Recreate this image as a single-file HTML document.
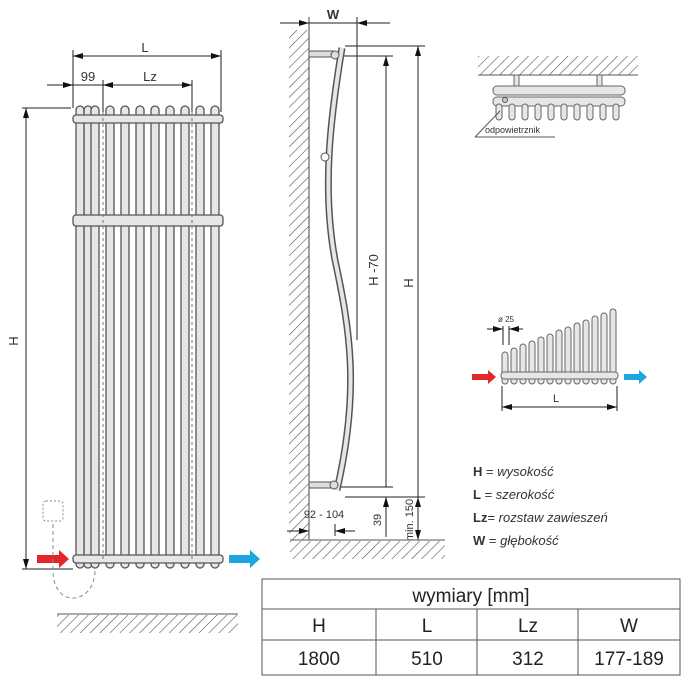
<!DOCTYPE html>
<html><head><meta charset="utf-8"><style>
html,body{margin:0;padding:0;background:#fff}
svg{display:block}
text{font-family:"Liberation Sans",sans-serif}
</style></head><body>
<svg width="696" height="696" viewBox="0 0 696 696" xmlns="http://www.w3.org/2000/svg">
<defs>
<marker id="a" viewBox="0 0 10 6" refX="10" refY="3" markerWidth="10" markerHeight="6" orient="auto-start-reverse" markerUnits="userSpaceOnUse"><path d="M0,0L10,3L0,6z" fill="#111"/></marker>
<pattern id="h" width="7" height="7" patternUnits="userSpaceOnUse" patternTransform="rotate(45)"><line x1="0" y1="0" x2="0" y2="7" stroke="#555" stroke-width="1.2"/></pattern>
</defs>
<g stroke="#222" stroke-width="1" fill="none">
<line x1="73" y1="56" x2="221" y2="56" marker-start="url(#a)" marker-end="url(#a)"/>
<line x1="73" y1="50" x2="73" y2="108"/><line x1="221" y1="50" x2="221" y2="112"/>
<line x1="47" y1="85" x2="73" y2="85" marker-end="url(#a)"/>
<line x1="73" y1="85" x2="103" y2="85"/>
<line x1="103" y1="85" x2="192" y2="85" marker-start="url(#a)" marker-end="url(#a)"/>
<line x1="103" y1="80" x2="103" y2="112"/><line x1="192" y1="80" x2="192" y2="112"/>
<line x1="22" y1="108" x2="71" y2="108"/><line x1="22" y1="569" x2="73" y2="569"/>
<line x1="26" y1="108" x2="26" y2="569" marker-start="url(#a)" marker-end="url(#a)"/>
</g>
<text x="145" y="52" font-size="13" text-anchor="middle" fill="#333">L</text>
<text x="88" y="81" font-size="13" text-anchor="middle" fill="#333">99</text>
<text x="150" y="81" font-size="13" text-anchor="middle" fill="#333">Lz</text>
<text x="22" y="345" font-size="13" text-anchor="middle" fill="#333" transform="rotate(-90 18 345)">H</text>
<g stroke="#555" stroke-width="1.3" fill="#e6e6e6">
<rect x="84" y="106" width="8" height="462" rx="4"/>
<rect x="76" y="106" width="8" height="462" rx="4"/><rect x="91" y="106" width="8" height="462" rx="4"/><rect x="106" y="106" width="8" height="462" rx="4"/><rect x="121" y="106" width="8" height="462" rx="4"/><rect x="136" y="106" width="8" height="462" rx="4"/><rect x="151" y="106" width="8" height="462" rx="4"/><rect x="166" y="106" width="8" height="462" rx="4"/><rect x="181" y="106" width="8" height="462" rx="4"/><rect x="196" y="106" width="8" height="462" rx="4"/><rect x="211" y="106" width="8" height="462" rx="4"/>
<rect x="73" y="115" width="150" height="8" rx="3"/>
<rect x="73" y="215" width="150" height="11" rx="3"/>
<rect x="73" y="555" width="150" height="8" rx="3"/>
</g>
<g stroke="#777" stroke-dasharray="3,3" fill="none"><line x1="103" y1="112" x2="103" y2="560"/><line x1="192" y1="112" x2="192" y2="560"/></g>
<path d="M37,555h22v-5l10,9l-10,9v-5h-22z" fill="#e3262a"/>
<path d="M229,555h21v-5l10,9l-10,9v-5h-21z" fill="#1ca5e3"/>
<rect x="43" y="501" width="20" height="20" rx="3" fill="none" stroke="#888" stroke-dasharray="2,2"/>
<path d="M53,524 V570 C53,610 95,605 95,570" fill="none" stroke="#888" stroke-dasharray="4,3"/>
<line x1="57" y1="614" x2="238" y2="614" stroke="#555"/>
<rect x="57" y="615" width="181" height="18" fill="url(#h)"/>
<rect x="289" y="30" width="20" height="510" fill="url(#h)"/>
<line x1="309" y1="17" x2="309" y2="540" stroke="#444"/>
<text x="333" y="19" font-size="13" font-weight="bold" text-anchor="middle" fill="#333">W</text>
<g stroke="#222" fill="none">
<line x1="280" y1="23" x2="309" y2="23" marker-end="url(#a)"/><line x1="309" y1="23" x2="357" y2="23"/><line x1="390" y1="23" x2="357" y2="23" marker-end="url(#a)"/>
<line x1="357" y1="17" x2="357" y2="340"/>
<line x1="345" y1="46" x2="425" y2="46"/><line x1="340" y1="56" x2="393" y2="56"/>
<line x1="386" y1="487" x2="386" y2="56" marker-end="url(#a)"/>
<line x1="418" y1="497" x2="418" y2="46" marker-end="url(#a)"/>
<line x1="340" y1="487" x2="393" y2="487"/><line x1="345" y1="497" x2="425" y2="497"/>
<line x1="386" y1="537" x2="386" y2="497" marker-end="url(#a)"/>
<line x1="418" y1="540" x2="418" y2="497" marker-end="url(#a)"/>
<line x1="418" y1="497" x2="418" y2="540" marker-end="url(#a)"/>
<line x1="287" y1="531" x2="309" y2="531" marker-end="url(#a)"/><line x1="355" y1="531" x2="335" y2="531" marker-end="url(#a)"/>
<line x1="335" y1="524" x2="335" y2="536"/>
</g>
<path d="M342,48 C330,120 322,190 335,260 C350,330 360,390 337,490" fill="none" stroke="#555" stroke-width="7"/>
<path d="M342,48 C330,120 322,190 335,260 C350,330 360,390 337,490" fill="none" stroke="#e6e6e6" stroke-width="4"/>
<rect x="309" y="51" width="24" height="6" fill="#ddd" stroke="#555"/>
<circle cx="335" cy="55" r="4" fill="#ddd" stroke="#555"/>
<circle cx="325" cy="157" r="4" fill="#fff" stroke="#555"/>
<rect x="309" y="482" width="24" height="6" fill="#ddd" stroke="#555"/>
<circle cx="334" cy="485" r="4" fill="#ddd" stroke="#555"/>
<text x="378" y="270" font-size="13" text-anchor="middle" fill="#333" transform="rotate(-90 378 270)">H -70</text>
<text x="413" y="283" font-size="13" text-anchor="middle" fill="#333" transform="rotate(-90 413 283)">H</text>
<text x="381" y="520" font-size="11" text-anchor="middle" fill="#333" transform="rotate(-90 381 520)">39</text>
<text x="413" y="520" font-size="11" text-anchor="middle" fill="#333" transform="rotate(-90 413 520)">min. 150</text>
<text x="324" y="518" font-size="11" text-anchor="middle" fill="#333">92 - 104</text>
<line x1="290" y1="540" x2="445" y2="540" stroke="#555"/>
<rect x="290" y="541" width="155" height="18" fill="url(#h)"/>
<rect x="478" y="56" width="160" height="19" fill="url(#h)"/>
<line x1="478" y1="75" x2="638" y2="75" stroke="#555"/>
<g stroke="#666" fill="#e6e6e6" stroke-width="1">
<rect x="514" y="75" width="5" height="13"/><rect x="597" y="75" width="5" height="13"/>
<rect x="493" y="86" width="132" height="9" rx="4"/>
<rect x="493" y="97" width="132" height="9" rx="4"/>
<rect x="496" y="104" width="6" height="16" rx="3"/><rect x="509" y="104" width="6" height="16" rx="3"/><rect x="522" y="104" width="6" height="16" rx="3"/><rect x="535" y="104" width="6" height="16" rx="3"/><rect x="548" y="104" width="6" height="16" rx="3"/><rect x="561" y="104" width="6" height="16" rx="3"/><rect x="574" y="104" width="6" height="16" rx="3"/><rect x="587" y="104" width="6" height="16" rx="3"/><rect x="600" y="104" width="6" height="16" rx="3"/><rect x="613" y="104" width="6" height="16" rx="3"/>
</g>
<circle cx="505" cy="100" r="2.5" fill="#ccc" stroke="#555"/>
<path d="M475,137 L500,111" stroke="#555" fill="none"/><line x1="475" y1="137" x2="555" y2="137" stroke="#555"/>
<text x="485" y="133" font-size="9" fill="#333">odpowietrznik</text>
<g stroke="#666" fill="#e6e6e6" stroke-width="1">
<rect x="502" y="352" width="6" height="32" rx="3"/><rect x="511" y="348" width="6" height="36" rx="3"/><rect x="520" y="344" width="6" height="40" rx="3"/><rect x="529" y="341" width="6" height="43" rx="3"/><rect x="538" y="337" width="6" height="47" rx="3"/><rect x="547" y="334" width="6" height="50" rx="3"/><rect x="556" y="330" width="6" height="54" rx="3"/><rect x="565" y="327" width="6" height="57" rx="3"/><rect x="574" y="323" width="6" height="61" rx="3"/><rect x="583" y="320" width="6" height="64" rx="3"/><rect x="592" y="316" width="6" height="68" rx="3"/><rect x="601" y="313" width="6" height="71" rx="3"/><rect x="610" y="309" width="6" height="75" rx="3"/>
<rect x="501" y="372" width="117" height="7" rx="3"/>
</g>
<g stroke="#222" fill="none">
<line x1="487" y1="329" x2="503" y2="329" marker-end="url(#a)"/><line x1="523" y1="329" x2="509" y2="329" marker-end="url(#a)"/>
<line x1="503" y1="326" x2="503" y2="345"/><line x1="509" y1="326" x2="509" y2="345"/>
<line x1="502" y1="386" x2="502" y2="411"/><line x1="617" y1="386" x2="617" y2="411"/>
<line x1="502" y1="407" x2="617" y2="407" marker-start="url(#a)" marker-end="url(#a)"/>
</g>
<text x="498" y="322" font-size="8" fill="#333">ø 25</text>
<text x="556" y="402" font-size="11" text-anchor="middle" fill="#333">L</text>
<path d="M472,374h16v-4l8,7l-8,7v-4h-16z" fill="#e3262a"/>
<path d="M624,374h15v-4l8,7l-8,7v-4h-15z" fill="#1ca5e3"/>
<g font-size="13" fill="#333">
<text x="473" y="476"><tspan font-weight="bold">H</tspan> = <tspan font-style="italic">wysokość</tspan></text>
<text x="473" y="499"><tspan font-weight="bold">L</tspan>  = <tspan font-style="italic">szerokość</tspan></text>
<text x="473" y="522"><tspan font-weight="bold">Lz</tspan>= <tspan font-style="italic">rozstaw zawieszeń</tspan></text>
<text x="473" y="545"><tspan font-weight="bold">W</tspan> = <tspan font-style="italic">głębokość</tspan></text>
</g>
<g stroke="#555" stroke-width="1" fill="none">
<rect x="262" y="579" width="418" height="96"/>
<line x1="262" y1="609" x2="680" y2="609"/><line x1="262" y1="640" x2="680" y2="640"/>
<line x1="376" y1="609" x2="376" y2="675"/><line x1="477" y1="609" x2="477" y2="675"/><line x1="578" y1="609" x2="578" y2="675"/>
</g>
<g font-size="19" fill="#222" text-anchor="middle">
<text x="471" y="602">wymiary [mm]</text>
<text x="319" y="632">H</text><text x="427" y="632">L</text><text x="528" y="632">Lz</text><text x="629" y="632">W</text>
<text x="319" y="665">1800</text><text x="427" y="665">510</text><text x="528" y="665">312</text><text x="629" y="665">177-189</text>
</g>
</svg>
</body></html>
